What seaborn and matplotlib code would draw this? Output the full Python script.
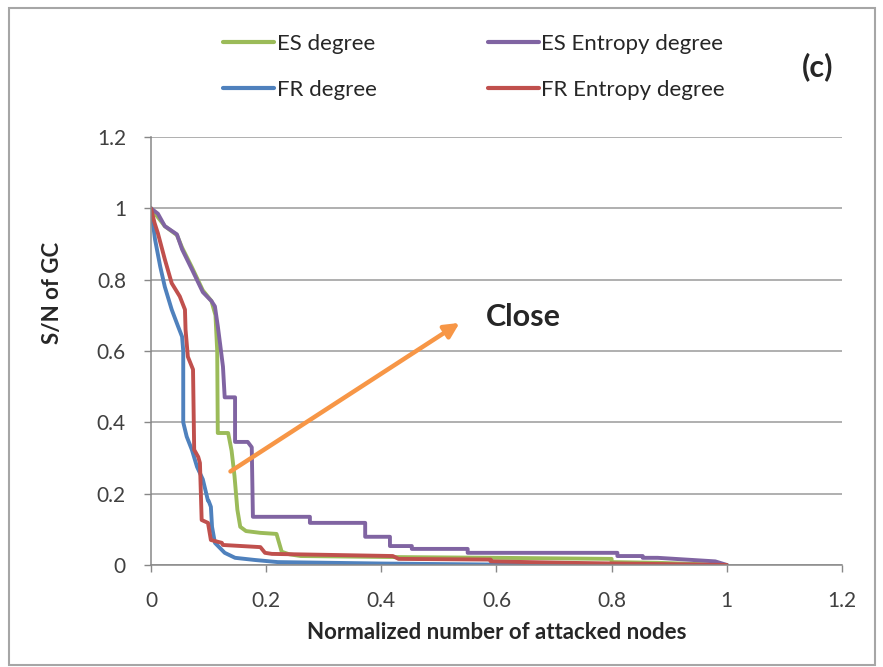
import numpy as np
import pandas as pd
import seaborn as sns
import matplotlib.pyplot as plt
from matplotlib.patches import Rectangle
from matplotlib.lines import Line2D

# values
es_deg_x = [0, 0.024, 0.045, 0.054, 0.071, 0.09, 0.105, 0.112, 0.115, 0.116, 0.134, 0.14, 0.145,
            0.15, 0.155, 0.165, 0.19, 0.218, 0.227, 0.24, 0.26, 0.43, 0.6, 0.8, 0.8, 0.88, 1.0]
es_deg_y = [1, 0.95, 0.925, 0.89, 0.835, 0.77, 0.74, 0.70, 0.60, 0.37, 0.37, 0.32, 0.25,
            0.155, 0.107, 0.095, 0.09, 0.087, 0.037, 0.03, 0.025, 0.022, 0.02, 0.017, 0.008, 0.006, 0.0]

es_ent_x = [0, 0.012, 0.024, 0.045, 0.054, 0.071, 0.09, 0.105, 0.111, 0.116, 0.12, 0.125, 0.128,
            0.146, 0.146, 0.168, 0.175, 0.177, 0.276, 0.276, 0.372, 0.372, 0.415, 0.415, 0.453,
            0.453, 0.55, 0.55, 0.81, 0.81, 0.854, 0.854, 0.88, 0.98, 1.0]
es_ent_y = [1, 0.985, 0.95, 0.927, 0.885, 0.829, 0.765, 0.74, 0.725, 0.67, 0.62, 0.556, 0.47,
            0.47, 0.345, 0.345, 0.33, 0.135, 0.135, 0.118, 0.118, 0.079, 0.079, 0.053, 0.053,
            0.045, 0.045, 0.034, 0.034, 0.025, 0.025, 0.02, 0.02, 0.01, 0.0]

fr_deg_x = [0, 0.007, 0.016, 0.024, 0.036, 0.047, 0.054, 0.056, 0.056, 0.062, 0.071, 0.08, 0.09,
            0.099, 0.1, 0.104, 0.106, 0.111, 0.128, 0.146, 0.18, 0.22, 0.4, 0.6, 1.0]
fr_deg_y = [1, 0.913, 0.837, 0.78, 0.716, 0.669, 0.64, 0.6, 0.4, 0.36, 0.323, 0.275, 0.24,
            0.18, 0.18, 0.163, 0.107, 0.062, 0.034, 0.02, 0.014, 0.008, 0.004, 0.001, 0.0]

fr_ent_x = [0, 0.006, 0.012, 0.024, 0.036, 0.05, 0.059, 0.06, 0.064, 0.073, 0.075, 0.082, 0.085,
            0.087, 0.088, 0.099, 0.104, 0.123, 0.125, 0.19, 0.198, 0.21, 0.42, 0.43, 0.59, 0.59,
            0.72, 1.0]
fr_ent_y = [1, 0.96, 0.93, 0.857, 0.79, 0.753, 0.716, 0.66, 0.584, 0.548, 0.323, 0.303, 0.286,
            0.18, 0.126, 0.118, 0.07, 0.062, 0.056, 0.05, 0.034, 0.031, 0.025, 0.017, 0.015, 0.01,
            0.006, 0.0]

names = ["ES degree", "ES Entropy degree", "FR degree", "FR Entropy degree"]
colors = {"ES degree": "#9BBB59", "ES Entropy degree": "#8064A2",
          "FR degree": "#4F81BD", "FR Entropy degree": "#C0504D"}
x_ticks = [0, 0.2, 0.4, 0.6, 0.8, 1, 1.2]
y_ticks = [0, 0.2, 0.4, 0.6, 0.8, 1, 1.2]

frames = []
for name, xs, ys in zip(names, [es_deg_x, es_ent_x, fr_deg_x, fr_ent_x],
                        [es_deg_y, es_ent_y, fr_deg_y, fr_ent_y]):
    frames.append(pd.DataFrame({"x": xs, "y": ys, "series": name}))
df = pd.concat(frames, ignore_index=True)

sns.set_theme(style="white")
plt.rcParams['font.family'] = ['Lato', 'DejaVu Sans']

fig = plt.figure(figsize=(8.83, 6.67), dpi=100)
ax = fig.add_axes([0.171, 0.153, 0.7825, 0.6416])

ax = sns.lineplot(data=df, x="x", y="y", hue="series", hue_order=names, palette=colors,
                  estimator=None, sort=False, linewidth=2.8, legend=False, ax=ax)

ax.set_xlim(0, 1.2)
ax.set_ylim(0, 1.2)
ax.set_xticks(x_ticks)
ax.set_yticks(y_ticks)
ax.set_xticklabels([f"{t:g}" for t in x_ticks], fontsize=15, color="#404040")
ax.set_yticklabels([f"{t:g}" for t in y_ticks], fontsize=15, color="#404040")
ax.tick_params(axis="both", length=5, width=1, color="#888888", direction="out",
               bottom=True, left=True)
ax.tick_params(axis="x", pad=14)
ax.tick_params(axis="y", pad=13)
ax.grid(axis="y", color="#9a9a9a", linewidth=1.1)
ax.grid(axis="x", visible=False)
for s in ["top", "right"]:
    ax.spines[s].set_visible(False)
for s in ["left", "bottom"]:
    ax.spines[s].set_color("#888888")
    ax.spines[s].set_linewidth(1.1)

ax.set_xlabel("Normalized number of attacked nodes", fontsize=16, fontweight="bold", labelpad=8)
ax.set_ylabel("S/N of GC", fontsize=16, fontweight="bold")
ax.yaxis.set_label_coords(-0.127, 0.635)

# arrow and annotation
ax.annotate("", xy=(0.54, 0.683), xytext=(0.134, 0.258),
            arrowprops=dict(arrowstyle="-|>", color="#F79646", lw=3.2, mutation_scale=22))
ax.text(0.582, 0.694, "Close", fontsize=22, fontweight="bold", ha="left", va="center")

fig.text(818 / 883, 1 - 67 / 667, "(c)", fontsize=22, fontweight="bold", ha="center", va="center")

handles = [Line2D([], [], color=colors[n], lw=3) for n in ["ES degree", "FR degree",
                                                           "ES Entropy degree", "FR Entropy degree"]]
labels = ["ES degree", "FR degree", "ES Entropy degree", "FR Entropy degree"]
fig.legend(handles, labels, ncol=2, loc="center", bbox_to_anchor=(474 / 883, 1 - 67 / 667),
           frameon=False, fontsize=16, handlelength=2.3, handletextpad=0.1,
           columnspacing=5.0, labelspacing=1.15)

fig.add_artist(Rectangle((9 / 883, 2 / 667), 866 / 883, 657 / 667, transform=fig.transFigure,
                         fill=False, edgecolor="#a6a6a6", linewidth=1.5))

fig.savefig("out.png", dpi=100)
